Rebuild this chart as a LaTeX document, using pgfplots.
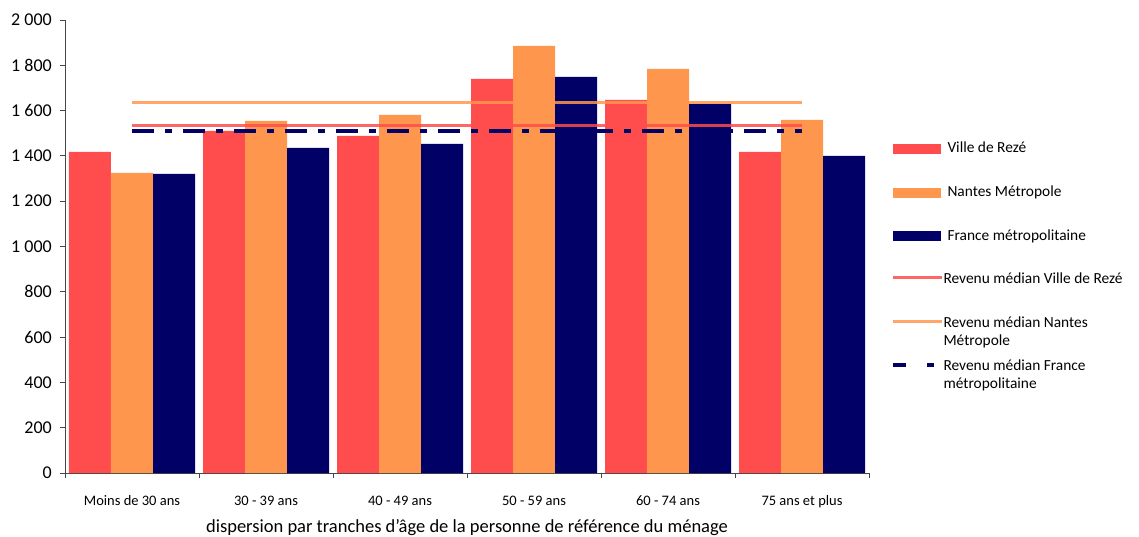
\documentclass[border=0pt]{standalone}
\usepackage{fontspec}
\setmainfont{Carlito}
\usepackage{pgfplots}
\pgfplotsset{compat=1.18}
\definecolor{rezered}{RGB}{255,76,76}
\definecolor{nantesorange}{RGB}{255,150,78}
\definecolor{francenavy}{RGB}{0,0,102}
\definecolor{axisgray}{RGB}{70,70,70}

\begin{document}
\begin{tikzpicture}
\path[use as bounding box] (-65pt,-63pt) rectangle (1074pt,473pt);
\begin{axis}[
    scale only axis,
    width=804pt, height=453pt,
    xmin=-0.5, xmax=5.5,
    ymin=0, ymax=2000,
    axis x line=bottom, axis y line=left,
    axis line style={-, draw=axisgray, line width=0.8pt},
    tick style={draw=axisgray, line width=0.8pt},
    tick align=outside,
    major tick length=5pt, minor tick length=5pt,
    ytick={0,200,...,2000},
    /pgf/number format/assume math mode=true,
    /pgf/number format/1000 sep={\ },
    yticklabel style={font=\fontsize{18}{20}\selectfont, anchor=east, inner sep=0pt, xshift=-8pt},
    xtick={0,...,5},
    xticklabels={Moins de 30 ans, 30 - 39 ans, 40 - 49 ans, 50 - 59 ans, 60 - 74 ans, 75 ans et plus},
    major x tick style={draw=none},
    minor xtick={-0.5,0.5,1.5,2.5,3.5,4.5,5.5},
    xticklabel style={font=\fontsize{14.5}{16}\selectfont, anchor=base, inner sep=0pt, yshift=-27pt},
    xlabel={dispersion par tranches d'âge de la personne de référence du ménage},
    xlabel style={font=\fontsize{18.5}{20}\selectfont, at={(axis description cs:0.5,0)}, anchor=base, inner sep=0pt, yshift=-59pt},
    legend cell align=left,
    legend style={at={(rel axis cs:1,0.7285)}, anchor=north west, xshift=22pt,
        draw=none, fill=none, inner sep=0pt, outer sep=0pt,
        row sep=29.6pt, column sep=4pt,
        font=\fontsize{15.4}{18}\selectfont,
        cells={anchor=base west},
        nodes={inner sep=0pt, text height=10pt, text depth=4pt}},
]
% barres : revenu par tranche d'age
\addplot[ybar, bar width=42pt, bar shift=-42pt, fill=rezered, draw=none,
    legend image code/.code={\fill[rezered] (0pt,-1pt) rectangle (48pt,9pt);}]
    coordinates {(0,1418) (1,1511) (2,1488) (3,1740) (4,1647) (5,1418)};
\addlegendentry{Ville de Rezé}
\addplot[ybar, bar width=42pt, bar shift=0pt, fill=nantesorange, draw=none,
    legend image code/.code={\fill[nantesorange] (0pt,-1pt) rectangle (48pt,9pt);}]
    coordinates {(0,1325) (1,1555) (2,1581) (3,1886) (4,1784) (5,1559)};
\addlegendentry{Nantes Métropole}
\addplot[ybar, bar width=42pt, bar shift=42pt, fill=francenavy, draw=none,
    legend image code/.code={\fill[francenavy] (0pt,-1pt) rectangle (48pt,9pt);}]
    coordinates {(0,1321) (1,1435) (2,1453) (3,1749) (4,1630) (5,1400)};
\addlegendentry{France métropolitaine}
% medianes
\addplot[rezered, line width=3pt, draw opacity=0.85,
    legend image code/.code={\draw[rezered, line width=3pt] (0pt,6pt) -- (49pt,6pt);}]
    coordinates {(0,1533) (5,1533)};
\addlegendentry{\hspace*{-4pt}Revenu médian Ville de Rezé}
\addplot[nantesorange, line width=3pt, draw opacity=0.85,
    legend image code/.code={\draw[nantesorange, line width=3pt] (0pt,6pt) -- (49pt,6pt);}]
    coordinates {(0,1636) (5,1636)};
\addlegendentry{\hspace*{-4pt}\parbox[t]{200pt}{Revenu médian Nantes\\Métropole}}
\addplot[francenavy, line width=4pt, dash pattern=on 22pt off 11pt on 7pt off 11pt,
    legend image code/.code={\draw[francenavy, line width=4pt, dash pattern=on 13pt off 21pt on 7pt off 20pt] (0pt,6pt) -- (41pt,6pt);}]
    coordinates {(0,1511) (5,1511)};
\addlegendentry{\hspace*{-4pt}\parbox[t]{200pt}{Revenu médian France\\métropolitaine}}
\end{axis}
\end{tikzpicture}
\end{document}
